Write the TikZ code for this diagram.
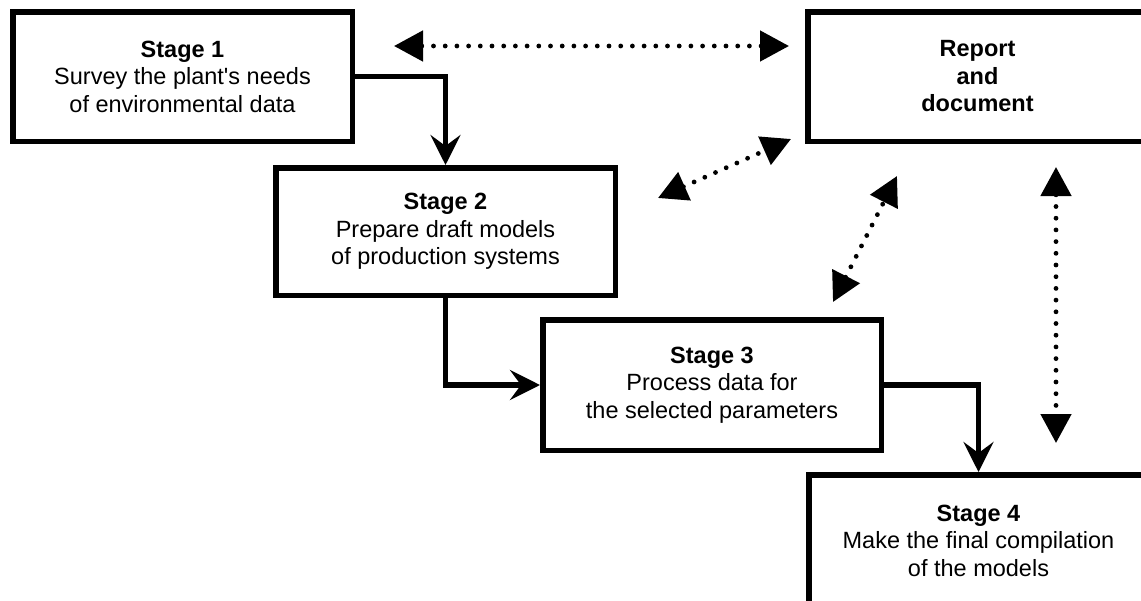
\documentclass[tikz,border=0pt]{standalone}
\usepackage{fontspec}
\setmainfont{Liberation Sans}[Ligatures=TeXOff]
\usetikzlibrary{arrows.meta}
\begin{document}
\begin{tikzpicture}[x=1pt,y=-1pt,
  stagebox/.style={draw, line width=5.5pt, align=center, inner sep=0pt,
    minimum width=339.5pt, font=\fontsize{23.5}{27.5}\selectfont},
  flow/.style={line width=5.5pt, line join=miter,
    -{Stealth[length=30pt, width=30pt, inset=11pt]}},
  linkarrow/.style={line width=4.8pt, line cap=round,
    dash pattern=on 0pt off 11.7pt,
    {Triangle[length=29pt, width=30pt]}-{Triangle[length=29pt, width=30pt]}}]
\useasboundingbox (0,0) rectangle (1141,600);
\clip (0,0) rectangle (1141,600);

% process stages and the report box
\node[stagebox, minimum height=129.5pt] (s1) at (182.5,76.5)
  {\textbf{Stage 1}\\Survey the plant's needs\\of environmental data};
\node[stagebox, minimum height=127.5pt] (s2) at (445.5,231.5)
  {\textbf{Stage 2}\\Prepare draft models\\of production systems};
\node[stagebox, minimum height=130.5pt, minimum width=338.5pt] (s3) at (712,385)
  {\textbf{Stage 3}\\Process data for\\the selected parameters};
\node[stagebox, minimum height=131.5pt] (s4) at (978.5,540.5)
  {\textbf{Stage 4}\\Make the final compilation\\of the models};
\node[stagebox, minimum height=129.5pt] (rep) at (977.5,76.5)
  {\textbf{Report}\\\textbf{and}\\\textbf{document}};

% main sequence
\draw[flow] (s1.east) -| (s2.north);
\draw[flow] (s2.south) |- (s3.west);
\draw[flow] (s3.east) -| (s4.north);

% ends of the reporting links
\coordinate (h1) at (394,46);
\coordinate (h2) at (789,46);
\coordinate (d1a) at (658,198);
\coordinate (d1b) at (791,139);
\coordinate (d2a) at (833,302);
\coordinate (d2b) at (897,176);
\coordinate (v1) at (1056,167);
\coordinate (v2) at (1056,443);

% reporting links
\draw[linkarrow] (h1) -- (h2);
\draw[linkarrow] (d1a) -- (d1b);
\draw[linkarrow] (d2a) -- (d2b);
\draw[linkarrow] (v1) -- (v2);
\end{tikzpicture}
\end{document}
